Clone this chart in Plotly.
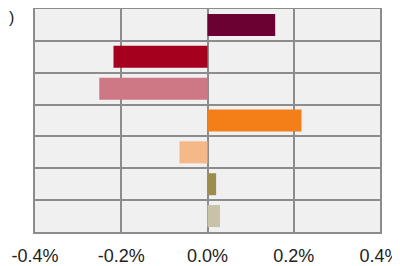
import plotly.graph_objects as go

categories = ["C1", "C2", "C3", "C4", "C5", "C6", "C7"]
values = [0.157, -0.218, -0.251, 0.218, -0.065, 0.020, 0.029]
colors = ["#6B0033", "#A6001F", "#CE7886", "#F47F19", "#F5B888", "#9C8D4F", "#C8C2A8"]
tick_vals = [-0.4, -0.2, 0.0, 0.2, 0.4]
tick_text = ["-0.4%", "-0.2%", "0.0%", "0.2%", "0.4%"]

ypos = list(range(len(categories)))

fig = go.Figure(go.Bar(
    x=values, y=ypos, orientation="h",
    marker=dict(color=colors, line=dict(width=0)),
    width=0.69,
    hovertext=categories,
))

grid = "#8C8C8C"
fig.update_layout(
    width=392, height=258,
    margin=dict(l=27, r=20, t=1, b=34, autoexpand=False),
    paper_bgcolor="white", plot_bgcolor="#F0F0F0",
    showlegend=False,
    font=dict(family="Liberation Sans, Arial, sans-serif", size=18, color="#222222"),
    xaxis=dict(
        range=[-0.4, 0.4], tickvals=tick_vals, ticktext=tick_text,
        automargin=False, ticklabeloverflow="allow",
        showgrid=True, gridcolor=grid, gridwidth=2,
        zeroline=True, zerolinecolor=grid, zerolinewidth=2,
        showline=True, linecolor=grid, linewidth=2, mirror=True,
        ticks="", tickfont=dict(size=18), ticklabelstandoff=6,
    ),
    yaxis=dict(
        range=[len(categories) - 0.5, -0.5],
        tickvals=[i - 0.5 for i in range(len(categories) + 1)],
        showticklabels=False, ticks="", automargin=False,
        showgrid=True, gridcolor=grid, gridwidth=2, zeroline=False,
        showline=True, linecolor=grid, linewidth=2, mirror=True,
    ),
    annotations=[dict(
        text=")", xref="paper", yref="paper", x=-0.08, y=0.96,
        xanchor="left", yanchor="middle", showarrow=False,
        font=dict(size=16, color="#222222"),
    )],
)

fig.write_html("out.html")
